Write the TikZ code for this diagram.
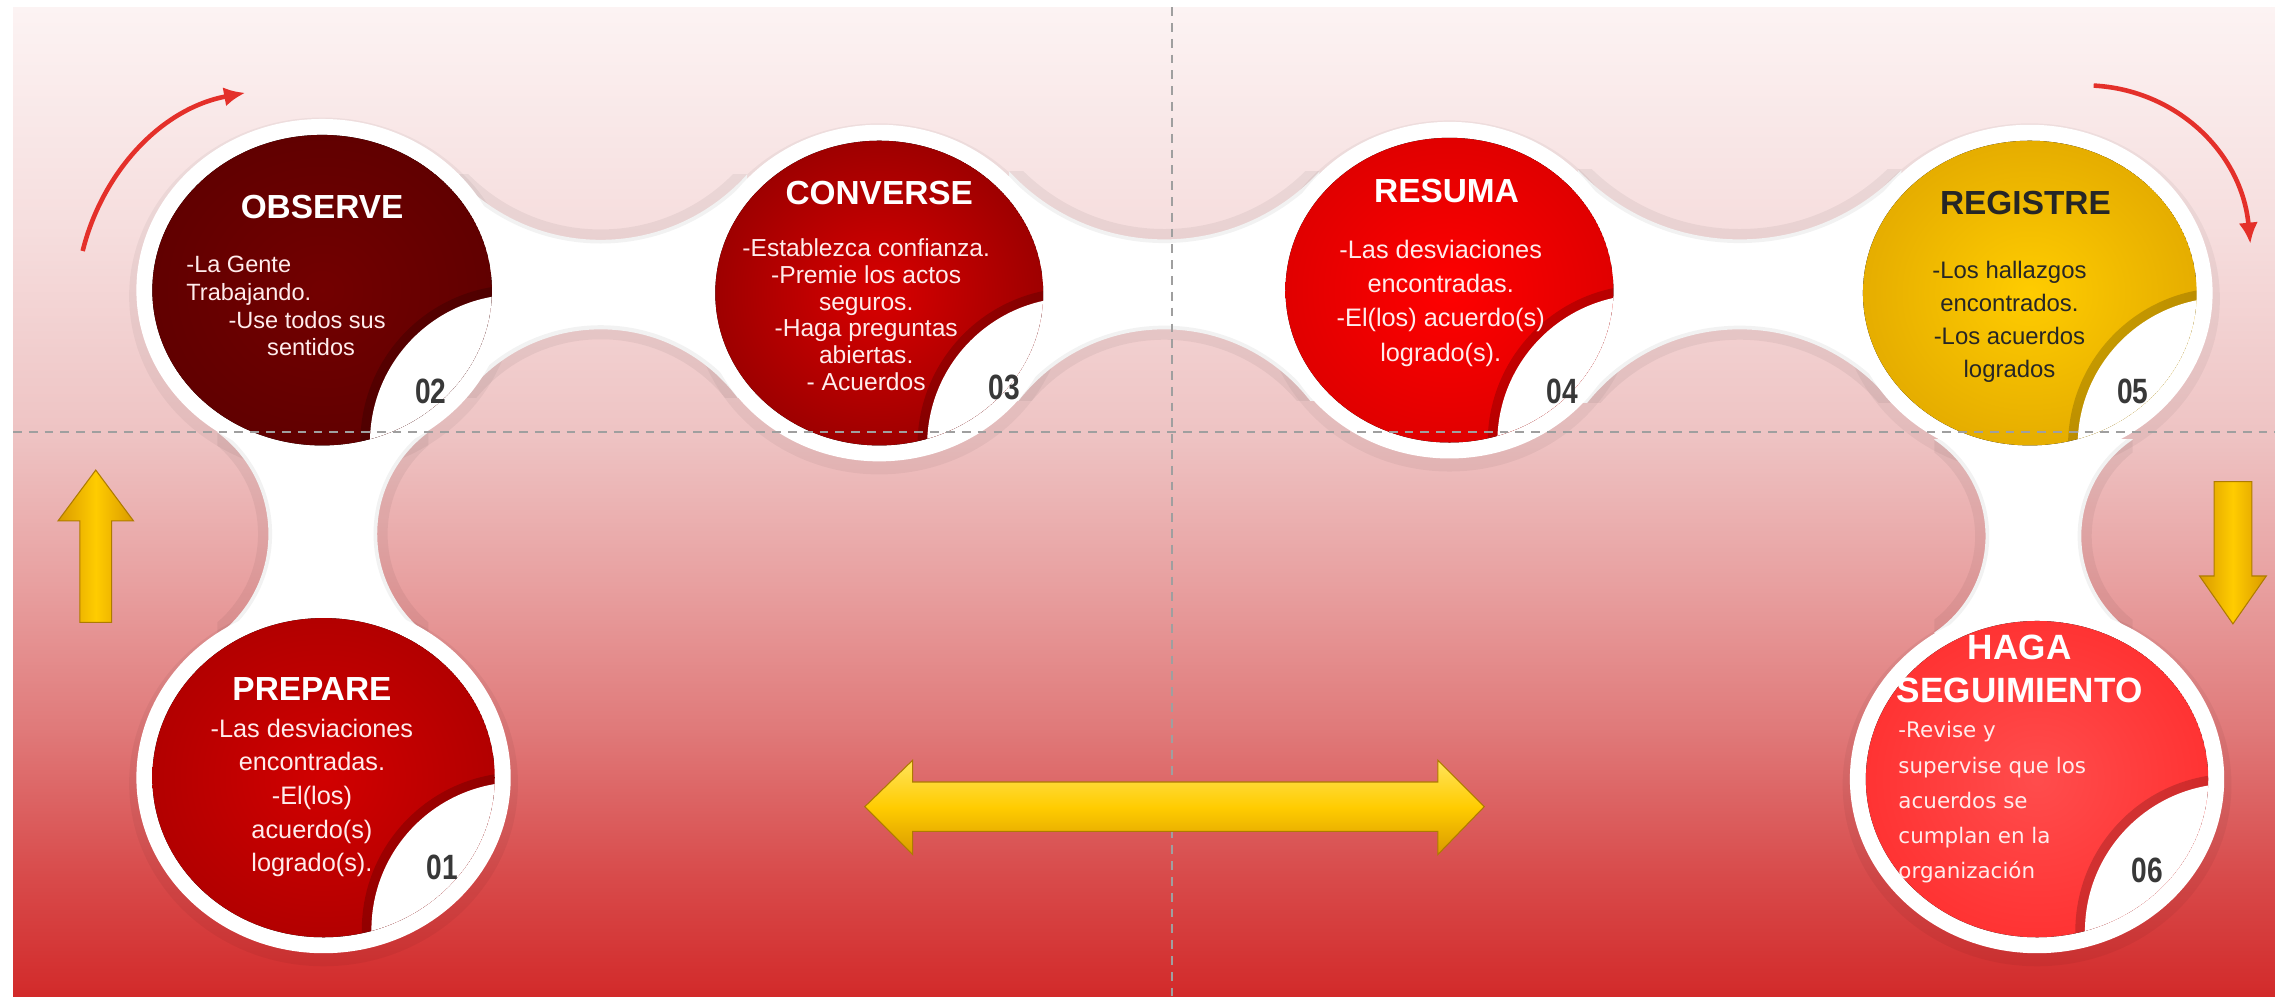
\documentclass[tikz,border=0pt]{standalone}
\usepackage{fontspec}
\setmainfont{Liberation Sans}
\newfontfamily\numfont{Liberation Sans}[FakeStretch=0.8]
\newfontfamily\dejavu{DejaVu Sans}
\usetikzlibrary{arrows.meta}

\definecolor{bgA}{HTML}{FCF3F3}
\definecolor{bgAA}{HTML}{F6DEDE}
\definecolor{bgB}{HTML}{EEC3C3}
\definecolor{bgC}{HTML}{E8A0A0}
\definecolor{bgD}{HTML}{E07A7A}
\definecolor{bgE}{HTML}{D84A4A}
\definecolor{bgF}{HTML}{D22A2A}
\definecolor{vermell}{HTML}{E4302A}
\definecolor{daurat}{HTML}{FFCC00}
\definecolor{dauratfosc}{HTML}{D99A00}
\definecolor{dauratclar}{HTML}{FFE45C}
\definecolor{textclar}{HTML}{FFECEC}
\definecolor{textfosc}{HTML}{262626}

\pgfdeclareverticalshading{fonsrosa}{100bp}{color(0bp)=(bgF); color(25bp)=(bgF);
  color(31bp)=(bgE); color(38.6bp)=(bgD); color(45.9bp)=(bgC); color(53.3bp)=(bgB);
  color(64bp)=(bgAA); color(75bp)=(bgA); color(100bp)=(bgA)}

\begin{document}
\begin{tikzpicture}[x=0.01451cm, y=-0.01451cm,
    ombra/.style={fill=black, opacity=.045},
    pont/.style={fill=white, even odd rule},
    vora/.style={draw=black, opacity=.05, line width=4pt},
    titol/.style={text=white, font=\bfseries\fontsize{9.5}{11}\selectfont,
        align=center, inner sep=0pt},
    cos/.style={text=textclar, font=\fontsize{7}{8.5}\selectfont,
        align=center, inner sep=0pt},
    numero/.style={text=black!78, font=\numfont\bfseries\fontsize{10}{10}\selectfont,
        inner sep=0pt},
    ratlla/.style={draw=gray!75, line width=0.6pt, dash pattern=on 2.5pt off 2pt},
    corba/.style={draw=vermell, line width=1.3pt, -{Latex[length=6pt, width=5.5pt]}},
    fletxav/.style={draw=dauratfosc!80!black, line width=0.3pt,
        left color=dauratfosc, right color=dauratfosc, middle color=daurat},
    fletxah/.style={draw=dauratfosc!80!black, line width=0.3pt,
        top color=dauratclar, bottom color=dauratfosc, middle color=daurat},
    ]
    \useasboundingbox (0,0) rectangle (1568,687);
    \shade[shading=fonsrosa] (9,5) rectangle (1568,687);

    \fill[ombra] (222,204) ellipse [x radius=133, y radius=123];
    \fill[ombra] (606,206) ellipse [x radius=129, y radius=121];
    \fill[ombra] (999,204) ellipse [x radius=129, y radius=121];
    \fill[ombra] (1399,206) ellipse [x radius=131, y radius=121];
    \fill[ombra] (223,540) ellipse [x radius=134, y radius=126];
    \fill[ombra] (1404,541) ellipse [x radius=134, y radius=125];

    \begin{scope}
        \clip (313,120) rectangle (515,274);
        \fill[pont] (300,110) rectangle (530,285) (414,30) circle (135.3) (414,345) circle (118);
        \draw[vora] (414,30) circle (133) (414,345) circle (116);
    \end{scope}
    \begin{scope}
        \clip (695.6,118.2) rectangle (909.4,276);
        \fill[pont] (685,108) rectangle (920,286) (802.5,19.5) circle (145.5) (802.5,354.1) circle (127.1);
        \draw[vora] (802.5,19.5) circle (143.2) (802.5,354.1) circle (124.8);
    \end{scope}
    \begin{scope}
        \clip (1087.5,117.1) rectangle (1310.5,277.3);
        \fill[pont] (1077,107) rectangle (1320,287) (1199,11.4) circle (153.6) (1199,361.3) circle (134.3);
        \draw[vora] (1199,11.4) circle (151.3) (1199,361.3) circle (132);
    \end{scope}
    \begin{scope}
        \clip (149.8,298) rectangle (295.2,438);
        \fill[pont] (140,288) rectangle (305,448) (97.7,368) circle (87.3) (347.3,368) circle (87.3);
        \draw[vora] (97.7,368) circle (85) (347.3,368) circle (85);
    \end{scope}
    \begin{scope}
        \clip (1333.2,303.1) rectangle (1469.8,435.9);
        \fill[pont] (1323,293) rectangle (1480,446) (1288.4,369.5) circle (80.1) (1514.6,369.5) circle (80.1);
        \draw[vora] (1288.4,369.5) circle (77.8) (1514.6,369.5) circle (77.8);
    \end{scope}

    \fill[white] (222,200) ellipse [x radius=128, y radius=118];
    \fill[white] (606,202) ellipse [x radius=124, y radius=116];
    \fill[white] (999,200) ellipse [x radius=124, y radius=116];
    \fill[white] (1399,202) ellipse [x radius=126, y radius=116];
    \fill[white] (223,536) ellipse [x radius=129, y radius=121];
    \fill[white] (1404,537) ellipse [x radius=129, y radius=120];

    \begin{scope}
        \clip (222,200) ellipse [x radius=117, y radius=107];
        \fill[inner color=red!45!black, outer color=red!38!black] (222,200) ellipse [x radius=117, y radius=107];
        \draw[black, opacity=.18, line width=3pt] (357,305) circle (105);
        \fill[white] (357,305) circle (102);
    \end{scope}
    \begin{scope}
        \clip (606,202) ellipse [x radius=113, y radius=105];
        \fill[inner color=red!85!black, outer color=red!62!black] (606,202) ellipse [x radius=113, y radius=105];
        \draw[black, opacity=.18, line width=3pt] (741,307) circle (105);
        \fill[white] (741,307) circle (102);
    \end{scope}
    \begin{scope}
        \clip (999,200) ellipse [x radius=113, y radius=105];
        \fill[inner color=red!100, outer color=red!88!black] (999,200) ellipse [x radius=113, y radius=105];
        \draw[black, opacity=.18, line width=3pt] (1134,305) circle (105);
        \fill[white] (1134,305) circle (102);
    \end{scope}
    \begin{scope}
        \clip (1399,202) ellipse [x radius=115, y radius=105];
        \fill[inner color=daurat, outer color=daurat!85!orange!90!black] (1399,202) ellipse [x radius=115, y radius=105];
        \draw[black, opacity=.18, line width=3pt] (1534,307) circle (105);
        \fill[white] (1534,307) circle (102);
    \end{scope}
    \begin{scope}
        \clip (223,536) ellipse [x radius=118, y radius=110];
        \fill[inner color=red!82!black, outer color=red!70!black] (223,536) ellipse [x radius=118, y radius=110];
        \draw[black, opacity=.18, line width=3pt] (358,641) circle (105);
        \fill[white] (358,641) circle (102);
    \end{scope}
    \begin{scope}
        \clip (1404,537) ellipse [x radius=118, y radius=109];
        \fill[inner color=red!70!white, outer color=red!80!white] (1404,537) ellipse [x radius=118, y radius=109];
        \draw[black, opacity=.18, line width=3pt] (1539,642) circle (105);
        \fill[white] (1539,642) circle (102);
    \end{scope}

    \node[titol] (t02) at (222,143) {OBSERVE};
    \node[cos, align=left, anchor=west, font=\fontsize{6.7}{7.9}\selectfont] (c02) at (128,211)
        {-La Gente\\Trabajando.\\\hspace*{12pt}-Use todos sus\\\hspace*{23pt}sentidos};
    \node[numero] (n02) at (297,270) {02};

    \node[titol] (t03) at (606,133) {CONVERSE};
    \node[cos, font=\fontsize{7}{7.6}\selectfont] (c03) at (597,217)
        {-Establezca confianza.\\-Premie los actos\\seguros.\\-Haga preguntas\\abiertas.\\- Acuerdos};
    \node[numero] (n03) at (692,267) {03};

    \node[titol] (t04) at (997,132) {RESUMA};
    \node[cos, font=\fontsize{7.2}{9.8}\selectfont] (c04) at (993,209)
        {-Las desviaciones\\encontradas.\\-El(los) acuerdo(s)\\logrado(s).};
    \node[numero] (n04) at (1077,270) {04};

    \node[titol, text=textfosc] (t05) at (1396,140) {REGISTRE};
    \node[cos, text=textfosc, font=\fontsize{6.8}{9.4}\selectfont] (c05) at (1385,222)
        {-Los hallazgos\\encontrados.\\-Los acuerdos\\logrados};
    \node[numero] (n05) at (1470,270) {05};

    \node[titol] (t01) at (215,475) {PREPARE};
    \node[cos, font=\fontsize{7.2}{9.6}\selectfont] (c01) at (215,550)
        {-Las desviaciones\\encontradas.\\-El(los)\\acuerdo(s)\\logrado(s).};
    \node[numero] (n01) at (305,598) {01};

    \node[titol, font=\bfseries\fontsize{10}{12.4}\selectfont] (t06) at (1392,461) {HAGA\\SEGUIMIENTO};
    \node[cos, align=left, anchor=west, font=\dejavu\fontsize{6.1}{10}\selectfont] (c06) at (1308,553)
        {-Revise y\\supervise que los\\acuerdos se\\cumplan en la\\organización};
    \node[numero] (n06) at (1480,600) {06};

    \draw[ratlla] (9,298) -- (1568,298);
    \draw[ratlla] (808,5) -- (808,687);

    \draw[corba] (57,173) .. controls (70,120) and (110,75) .. (169,64);
    \draw[corba] (1443,59) .. controls (1500,62) and (1545,105) .. (1551,168);

    \path[fletxav] (55,429) -- (55,359) -- (40,359) -- (66,324) -- (92,359) -- (77,359) -- (77,429) -- cycle;
    \path[fletxav] (1526,332) -- (1552,332) -- (1552,397) -- (1562,397) -- (1539,430) -- (1516,397) -- (1526,397) -- cycle;
    \path[fletxah] (596,556) -- (629,524) -- (629,539) -- (991,539) -- (991,524) -- (1023,556)
        -- (991,589) -- (991,573) -- (629,573) -- (629,589) -- cycle;
\end{tikzpicture}
\end{document}
